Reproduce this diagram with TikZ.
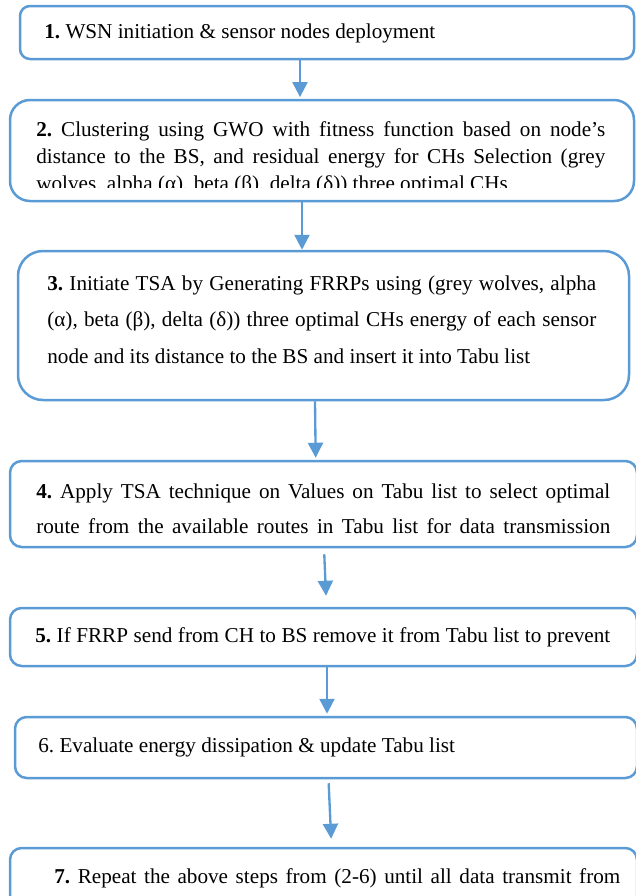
\documentclass[tikz,border=0pt]{standalone}
\usepackage{fontspec}
\setmainfont{Liberation Serif}
\usetikzlibrary{arrows.meta, fit}

\definecolor{stepblue}{RGB}{91,155,213}

\tikzset{
  stepbox/.style={draw=stepblue, line width=1.5pt, rounded corners=7pt, inner sep=0pt},
  steptext/.style={anchor=base west, inner sep=0pt, align=justify, font=\fontsize{12.7}{16.2}\selectfont\frenchspacing},
  flow/.style={draw=stepblue, line width=1.4pt, -{Triangle[width=9pt,length=9pt]}}
}

\begin{document}
\begin{tikzpicture}[x=0.6pt, y=-0.6pt]

  % Page
  \useasboundingbox (0,0) rectangle (636,896);
  \clip (0,0) rectangle (636,896);

  % Boxes
  \node[stepbox, rounded corners=6pt, fit={(20,6) (634,59)}] (s1) {};
  \node[stepbox, rounded corners=12pt, fit={(10,100) (634,201)}] (s2) {};
  \node[stepbox, rounded corners=15pt, fit={(18,251) (629,400)}] (s3) {};
  \node[stepbox, fit={(10,461) (637,547)}] (s4) {};
  \node[stepbox, fit={(10,608) (637,666)}] (s5) {};
  \node[stepbox, fit={(15,717) (637,778)}] (s6) {};
  \node[stepbox, fit={(10,848) (637,930)}] (s7) {};

  % Texts
  \node[steptext] (t1) at (44,38) {\textbf{1.} WSN initiation \& sensor nodes deployment};
  \begin{scope}
    \clip (0,100) rectangle (636,187);
    \node[steptext, text width=341.4pt] (t2) at (36,136) {\textbf{2.} Clustering using GWO with fitness function based on node's\linebreak
      distance to the BS, and residual energy for CHs Selection (grey\linebreak
      wolves, alpha (α), beta (β), delta (δ)) three optimal CHs};
  \end{scope}
  \node[steptext, text width=329.4pt, font=\fontsize{12.7}{21.9}\selectfont\frenchspacing] (t3) at (47,290) {\textbf{3.} Initiate TSA by Generating FRRPs using (grey wolves, alpha\linebreak
    (α), beta (β), delta (δ)) three optimal CHs energy of each sensor\linebreak
    node and its distance to the BS and insert it into Tabu list};
  \node[steptext, text width=344.4pt, font=\fontsize{12.7}{21}\selectfont\frenchspacing] (t4) at (36,498) {\textbf{4.} Apply TSA technique on Values on Tabu list to select optimal\linebreak
    route from the available routes in Tabu list for data transmission{\parfillskip=0pt\par}};
  \node[steptext, text width=345pt] (t5) at (35,642) {\textbf{5.} If FRRP send from CH to BS remove it from Tabu list to prevent{\parfillskip=0pt\par}};
  \node[steptext] (t6) at (38,752) {6. Evaluate energy dissipation \& update Tabu list};
  \node[steptext, text width=339.6pt] (t7) at (54,883) {\textbf{7.} Repeat the above steps from (2-6) until all data transmit from{\parfillskip=0pt\par}};

  % Arrows
  \coordinate (a1) at (300,0);
  \coordinate (a2) at (302,0);
  \coordinate (a3) at (315,0);
  \coordinate (b3) at (315.7,0);
  \coordinate (a4) at (324,0);
  \coordinate (b4) at (326.5,0);
  \coordinate (a5) at (327,0);
  \coordinate (a6) at (328.5,0);
  \coordinate (b6) at (331.5,0);
  \draw[flow, shorten >=1pt] (s1.south -| a1) -- (s2.north -| a1);
  \draw[flow] (s2.south -| a2) -- (s3.north -| a2);
  \draw[flow, shorten >=1.2pt] (s3.south -| a3) -- (s4.north -| b3);
  \draw[flow, shorten <=3.6pt, shorten >=6.6pt] (s4.south -| a4) -- (s5.north -| b4);
  \draw[flow, shorten >=1.2pt] (s5.south -| a5) -- (s6.north -| a5);
  \draw[flow, shorten <=2.4pt, shorten >=4.8pt] (s6.south -| a6) -- (s7.north -| b6);

\end{tikzpicture}
\end{document}
